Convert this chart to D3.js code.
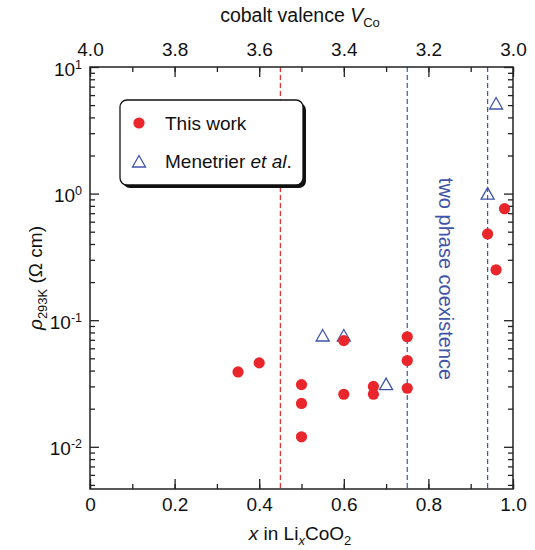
<!doctype html>
<html>
  <head>
    <style>
      body { margin: 0; background: #fff; }
      text { font-family: "Liberation Sans", Arial, sans-serif; }
    </style>
  </head>
  <body>
    <svg width="535" height="550" id="content"></svg>

    <script src="https://cdnjs.cloudflare.com/ajax/libs/d3/7.8.5/d3.min.js"></script>
    <script>
      // this work (red dots)
      const thisWorkX = [0.35, 0.40, 0.50, 0.50, 0.50, 0.60, 0.60, 0.67, 0.67, 0.75, 0.75, 0.75, 0.94, 0.96, 0.98]
      const thisWorkRho = [0.039, 0.046, 0.031, 0.022, 0.012, 0.069, 0.026, 0.030, 0.026, 0.074, 0.048, 0.029, 0.48, 0.25, 0.76]
      // Menetrier et al. (open triangles)
      const menetrierX = [0.55, 0.60, 0.70, 0.94, 0.96]
      const menetrierRho = [0.075, 0.075, 0.031, 0.99, 5.1]
      // phase boundaries
      const redLines = [0.45]
      const blueLines = [0.75, 0.94]

      const xTicks = [0, 0.2, 0.4, 0.6, 0.8, 1.0]
      const vTicks = [4.0, 3.8, 3.6, 3.4, 3.2, 3.0]
      const yTicks = [1e-2, 1e-1, 1e0, 1e1]

      const RED = '#e8262b'
      const BLUE = '#3f55a8'

      const margin = {left: 90, right: 22, top: 67, bottom: 61}
      const W = 535, H = 550
      const svg = d3.select('#content')

      const x = d3.scaleLinear().domain([0, 1]).range([margin.left, W - margin.right])
      const xTop = d3.scaleLinear().domain([4, 3]).range([margin.left, W - margin.right])
      const y = d3.scaleLog().domain([Math.pow(10, -7 / 3), 10]).range([H - margin.bottom, margin.top])

      const minorX = d3.range(0, 11).map(d => d / 10)
      const minorY = []
      ;[-3, -2, -1, 0].forEach(e => {
        for (let m = 2; m <= 9; m++) {
          const v = m * Math.pow(10, e)
          if (v >= y.domain()[0] && v <= 10) minorY.push(v)
        }
      })

      // dashed phase lines
      svg.selectAll('.redline').data(redLines).enter().append('line')
        .attr('x1', d => x(d)).attr('x2', d => x(d))
        .attr('y1', y.range()[1]).attr('y2', y.range()[0])
        .style('stroke', RED).style('stroke-width', 1.2).style('stroke-dasharray', '5,3')
      svg.selectAll('.blueline').data(blueLines).enter().append('line')
        .attr('x1', d => x(d)).attr('x2', d => x(d))
        .attr('y1', y.range()[1]).attr('y2', y.range()[0])
        .style('stroke', BLUE).style('stroke-width', 1.2).style('stroke-dasharray', '5,3')

      // axes, ticks pointing inward
      const y0 = H - margin.bottom, x0 = margin.left, x1 = W - margin.right
      svg.append('g').attr('transform', `translate(0,${y0})`)
        .call(d3.axisBottom(x).tickValues(minorX).tickSize(-5).tickFormat(''))
      svg.append('g').attr('class', 'xb').attr('transform', `translate(0,${y0})`)
        .call(d3.axisBottom(x).tickValues(xTicks).tickSize(-10).tickPadding(9)
          .tickFormat(d => d === 0 ? '0' : d3.format('.1f')(d)))
      svg.append('g').attr('transform', `translate(0,${margin.top})`)
        .call(d3.axisTop(xTop).tickValues(minorX.map(d => 4 - d)).tickSize(-5).tickFormat(''))
      svg.append('g').attr('class', 'xt').attr('transform', `translate(0,${margin.top})`)
        .call(d3.axisTop(xTop).tickValues(vTicks).tickSize(-10).tickPadding(11).tickFormat(d3.format('.1f')))
      svg.append('g').attr('transform', `translate(${x0},0)`)
        .call(d3.axisLeft(y).tickValues(minorY).tickSize(-5).tickFormat(''))
      svg.append('g').attr('class', 'yl').attr('transform', `translate(${x0},0)`)
        .call(d3.axisLeft(y).tickValues(yTicks).tickSize(-9).tickPadding(8).tickFormat(''))
      svg.append('g').attr('transform', `translate(${x1},0)`)
        .call(d3.axisRight(y).tickValues(minorY).tickSize(-5).tickFormat(''))
      svg.append('g').attr('transform', `translate(${x1},0)`)
        .call(d3.axisRight(y).tickValues(yTicks).tickSize(-9).tickFormat(''))

      svg.selectAll('.domain').remove()
      svg.selectAll('.tick line').style('stroke', '#222').style('stroke-width', 1.3)
      svg.selectAll('.xb text, .xt text').style('font-size', '19px').style('fill', '#111')

      // log labels with superscripts
      svg.select('.yl').selectAll('.tick').each(function (d) {
        const t = d3.select(this).append('text')
          .attr('x', -8).attr('y', 8).attr('text-anchor', 'end')
          .style('font-size', '19px').style('fill', '#111')
        t.append('tspan').text('10')
        t.append('tspan').attr('dy', -7).style('font-size', '12.5px').text(Math.round(Math.log10(d)))
      })

      svg.append('rect')
        .attr('x', x0).attr('y', margin.top)
        .attr('width', x1 - x0).attr('height', y0 - margin.top)
        .style('fill', 'none').style('stroke', '#222').style('stroke-width', 1.5)

      // titles
      const topTitle = svg.append('text').attr('x', 300).attr('y', 22).attr('text-anchor', 'middle')
        .style('font-size', '19.5px').style('fill', '#111')
      topTitle.append('tspan').text('cobalt valence  ')
      topTitle.append('tspan').style('font-style', 'italic').text('V')
      topTitle.append('tspan').attr('dy', 5).style('font-size', '13px').text('Co')

      const bottomTitle = svg.append('text').attr('x', 300).attr('y', 540).attr('text-anchor', 'middle')
        .style('font-size', '19px').style('fill', '#111')
      bottomTitle.append('tspan').style('font-style', 'italic').text('x')
      bottomTitle.append('tspan').text(' in Li')
      bottomTitle.append('tspan').attr('dy', 5).style('font-size', '13px').style('font-style', 'italic').text('x')
      bottomTitle.append('tspan').attr('dy', -5).text('CoO')
      bottomTitle.append('tspan').attr('dy', 5).style('font-size', '13px').text('2')

      const ylab = svg.append('text').attr('transform', 'translate(42,278) rotate(-90)')
        .attr('text-anchor', 'middle').style('font-size', '19px').style('fill', '#111')
      ylab.append('tspan').style('font-style', 'italic').text('ρ')
      ylab.append('tspan').attr('dy', 5).style('font-size', '13px').text('293K')
      ylab.append('tspan').attr('dy', -5).text(' (Ω cm)')

      svg.append('text').attr('transform', 'translate(439,279) rotate(90)')
        .attr('text-anchor', 'middle').style('font-size', '20px').style('fill', BLUE)
        .text('two phase coexistence')

      // data
      const tri = 'M0,-6.5L6.5,5L-6.5,5Z'
      svg.selectAll('.tri').data(menetrierX).enter().append('path')
        .attr('d', tri)
        .attr('transform', (d, i) => `translate(${x(d)},${y(menetrierRho[i])})`)
        .style('fill', 'none').style('stroke', BLUE).style('stroke-width', 1.3)
      svg.selectAll('.dot').data(thisWorkX).enter().append('circle')
        .attr('cx', d => x(d)).attr('cy', (d, i) => y(thisWorkRho[i])).attr('r', 5.6)
        .style('fill', RED)

      // legend
      const lg = svg.append('g')
      lg.append('rect').attr('x', 123).attr('y', 103).attr('width', 183).attr('height', 85)
        .attr('rx', 7).style('fill', '#111')
      lg.append('rect').attr('x', 120).attr('y', 100).attr('width', 183).attr('height', 85)
        .attr('rx', 7).style('fill', '#fff').style('stroke', '#111').style('stroke-width', 1.3)
      lg.append('circle').attr('cx', 139).attr('cy', 123).attr('r', 5.6).style('fill', RED)
      lg.append('text').attr('x', 165).attr('y', 130).style('font-size', '19px').style('fill', '#111').text('This work')
      lg.append('path').attr('d', tri).attr('transform', 'translate(139,162)')
        .style('fill', 'none').style('stroke', BLUE).style('stroke-width', 1.3)
      const lt = lg.append('text').attr('x', 165).attr('y', 168).style('font-size', '19px').style('fill', '#111')
      lt.append('tspan').text('Menetrier ')
      lt.append('tspan').style('font-style', 'italic').text('et al')
      lt.append('tspan').text('.')
    </script>
  </body>
</html>
